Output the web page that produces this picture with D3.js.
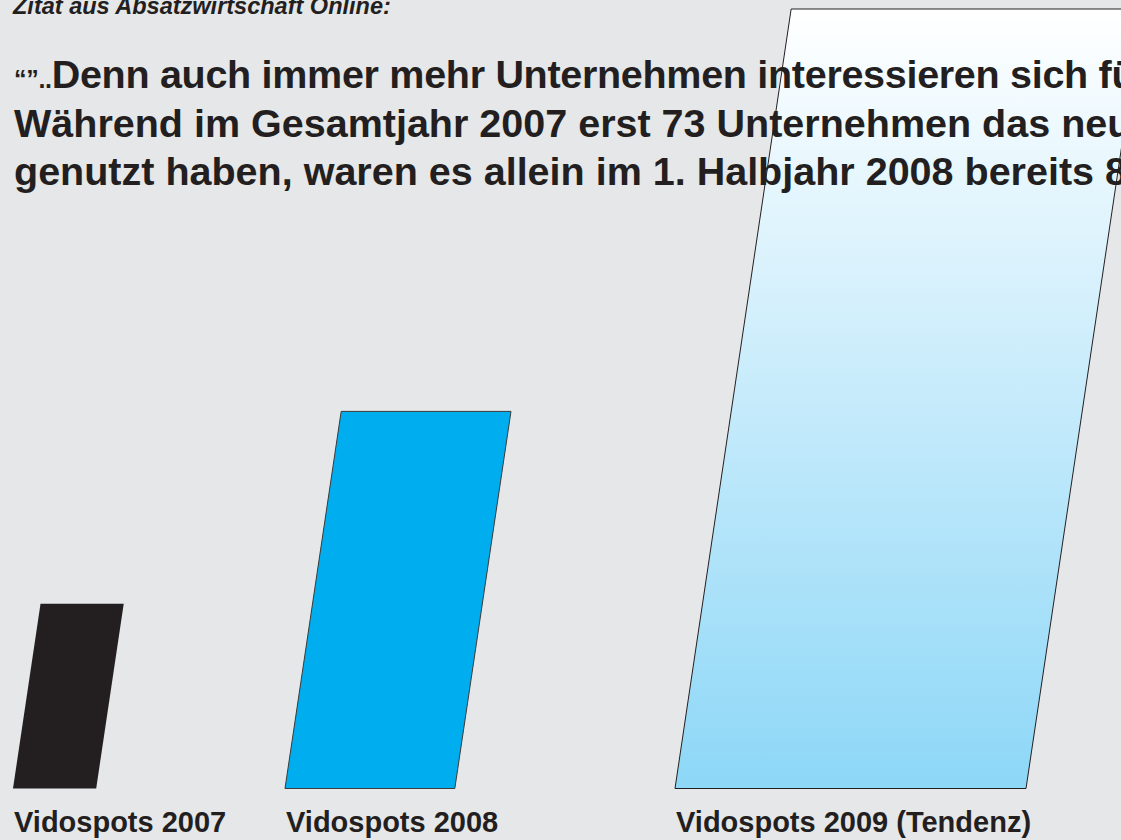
<!DOCTYPE html>
<html>
<head>
<meta charset="utf-8">
<script src="https://cdn.jsdelivr.net/npm/d3@7"></script>
<style>
  html, body { margin: 0; padding: 0; background: #e6e7e9; overflow: hidden; }
  svg { display: block; }
</style>
</head>
<body>
<script>
// ---- data ----
const categories = ["Vidospots 2007", "Vidospots 2008", "Vidospots 2009 (Tendenz)"];
const values = [73, 149, 308];
const subtitle = "Zitat aus Absatzwirtschaft Online:";
const quotePrefix = "\u201C\u201D..";
const quoteLines = [
  "Denn auch immer mehr Unternehmen interessieren sich für",
  "Während im Gesamtjahr 2007 erst 73 Unternehmen das neue",
  "genutzt haben, waren es allein im 1. Halbjahr 2008 bereits 80"
];

// ---- layout ----
const W = 1121, H = 840;
const baseY = 788.5, topY = 9;
const slant = 0.149;
const fills = ["#231f20", "#00aeef", "url(#g2009)"];
const strokes = ["none", "#3a3a3a", "#231f20"];

const svg = d3.select("body").append("svg").attr("width", W).attr("height", H);
svg.append("rect").attr("width", W).attr("height", H).attr("fill", "#e6e7e9");

const defs = svg.append("defs");
const grad = defs.append("linearGradient").attr("id", "g2009")
  .attr("gradientUnits", "userSpaceOnUse")
  .attr("x1", 0).attr("y1", topY).attr("x2", 0).attr("y2", baseY);
grad.append("stop").attr("offset", "0%").attr("stop-color", "#ffffff");
grad.append("stop").attr("offset", "100%").attr("stop-color", "#8dd7f7");

const y = d3.scaleLinear().domain([0, d3.max(values)]).range([baseY, topY]);
const w = d3.scaleLinear().domain([0, d3.max(values)]).range([0, 351]);
const x = d3.scaleOrdinal().domain(categories).range([13, 285, 675]);

const data = categories.map((c, i) => ({ c, v: values[i], i }));

svg.selectAll("path.bar").data(data).enter().append("path")
  .attr("class", "bar")
  .attr("d", d => {
    const x0 = x(d.c), ty = y(d.v), h = baseY - ty, off = h * slant, bw = w(d.v);
    return `M${x0},${baseY}L${x0 + bw},${baseY}L${x0 + bw + off},${ty}L${x0 + off},${ty}Z`;
  })
  .attr("fill", d => fills[d.i])
  .attr("stroke", d => strokes[d.i])
  .attr("stroke-width", 1);

// category labels
svg.selectAll("text.lab").data(data).enter().append("text")
  .attr("class", "lab")
  .attr("x", d => x(d.c) + 1)
  .attr("y", 832)
  .attr("font-family", "'Liberation Sans', Arial, sans-serif")
  .attr("font-weight", "bold")
  .attr("font-size", 29)
  .attr("fill", "#231f20")
  .text(d => d.c);

// subtitle
svg.append("text")
  .attr("x", 13).attr("y", 14)
  .attr("font-family", "'Liberation Sans', Arial, sans-serif")
  .attr("font-weight", "bold")
  .attr("font-style", "italic")
  .attr("font-size", 23.5)
  .attr("fill", "#231f20")
  .text(subtitle);

// quote
const q = svg.append("g")
  .attr("font-family", "'Liberation Sans', Arial, sans-serif")
  .attr("font-weight", "bold")
  .attr("fill", "#231f20");
quoteLines.forEach((line, i) => {
  const t = q.append("text").attr("x", 14).attr("y", 88 + i * 48.5).attr("font-size", 39.5);
  if (i === 0) {
    t.attr("letter-spacing", -0.3);
    t.append("tspan").attr("font-size", 25).text(quotePrefix);
  }
  t.append("tspan").text(line);
});
</script>
</body>
</html>
